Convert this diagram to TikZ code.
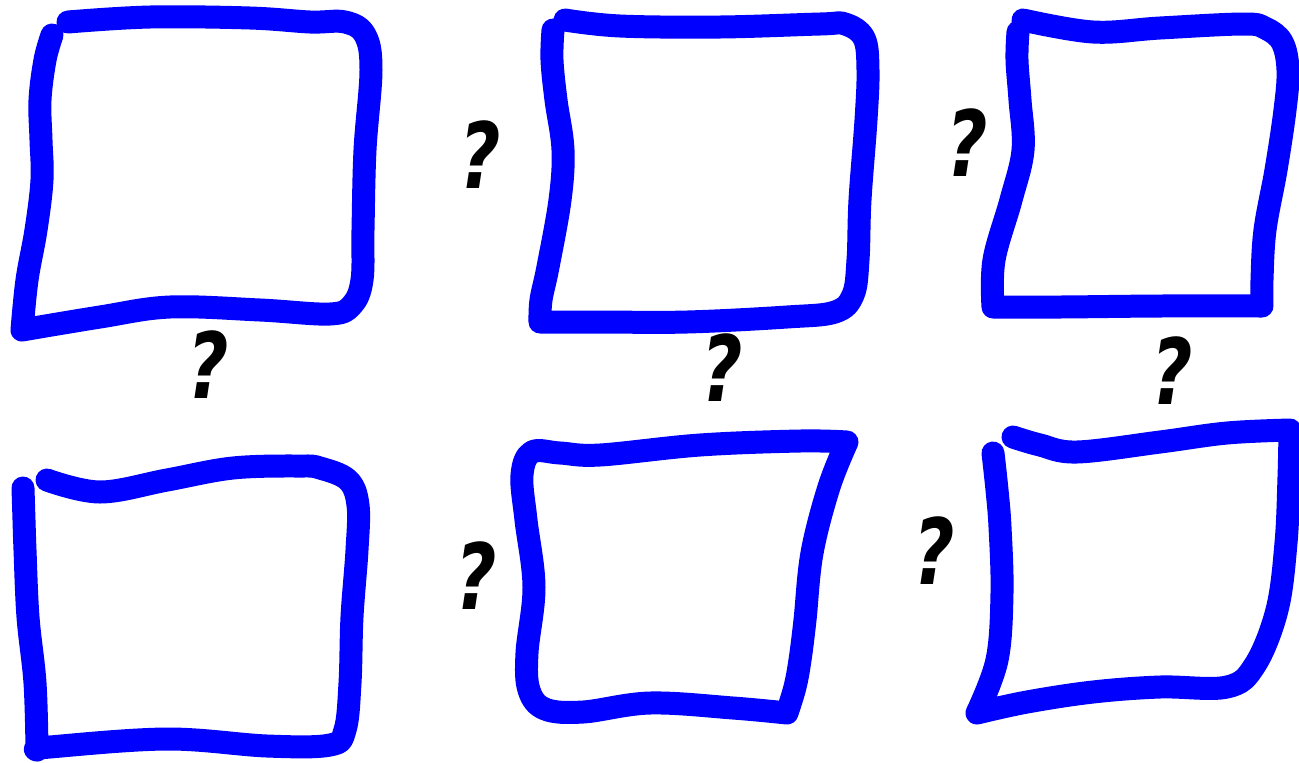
\documentclass[tikz,border=0pt]{standalone}
\usepackage{fontspec}
\newfontfamily\qfont{DejaVu Sans}
\definecolor{penblue}{RGB}{0,0,255}
\begin{document}
\begin{tikzpicture}[x=0.02cm,y=-0.02cm,
  pen/.style={draw=penblue,line width=0.46cm,line cap=round,line join=round},
  qmark/.style={inner sep=0pt,font=\qfont\bfseries\itshape\fontsize{52}{52}\selectfont,xscale=0.78}]
\useasboundingbox (0,0) rectangle (1299,762);
% square 1
\draw[pen] plot[smooth,tension=0.6] coordinates {(52,35) (45,60) (40,100) (41,140) (42,180) (36,230) (27,280) (22,330)}
  -- plot[smooth,tension=0.6] coordinates {(22,330) (100,317) (170,307) (260,310) (330,314) (352,305) (362,280) (363,230) (365,150) (371,70) (365,35) (345,22) (310,22) (250,18) (150,17) (68,22)};
% square 2
\draw[pen] plot[smooth,tension=0.6] coordinates {(553,30) (552,60) (556,100) (563,150) (560,200) (548,267) (541,300) (540,322)}
  -- plot[smooth,tension=0.6] coordinates {(540,322) (600,322) (687,322) (787,317) (835,312) (853,295) (858,260) (860,200) (866,120) (868,70) (864,38) (845,24) (820,24) (720,27) (620,26) (565,20)};
% square 3
\draw[pen] plot[smooth,tension=0.6] coordinates {(1018,32) (1017,60) (1020,100) (1023,150) (1011,200) (994,260) (993,307)}
  -- plot[smooth,tension=0.6] coordinates {(993,307) (1060,307) (1160,306) (1262,306)}
  -- plot[smooth,tension=0.6] coordinates {(1262,306) (1262,280) (1265,230) (1276,170) (1285,110) (1288,70) (1282,42) (1265,28) (1243,24) (1160,28) (1093,32) (1023,20)};
% square 4
\draw[pen] plot[smooth,tension=0.6] coordinates {(23,488) (24,520) (25,550) (28,617) (35,683) (37,750)}
  -- plot[smooth,tension=0.6] coordinates {(37,750) (50,747) (167,739) (267,746) (330,745) (345,730) (350,683) (352,617) (357,550) (358,505) (348,480) (320,468) (300,466) (233,468) (167,480) (100,492) (47,480)};
% square 5
\draw[pen] plot[smooth,tension=0.6] coordinates {(847,442) (829,487) (812,553) (805,620) (800,660) (795,687) (787,713)}
  -- plot[smooth,tension=0.6] coordinates {(787,713) (733,708) (650,703) (583,712) (545,709) (529,690) (527,653) (534,587) (526,520) (522,475) (532,452) (560,453) (600,455) (700,445) (800,441) (847,442)};
% square 6
\draw[pen] plot[smooth,tension=0.6] coordinates {(993,453) (997,490) (1000,527) (1002,593) (997,660) (977,713)}
  -- plot[smooth,tension=0.6] coordinates {(977,713) (1027,702) (1093,692) (1160,687) (1227,687) (1255,665) (1277,610) (1286,543) (1289,477) (1290,430)}
  -- plot[smooth,tension=0.6] coordinates {(1290,430) (1227,433) (1160,442) (1077,452) (1040,445) (1013,437)};
% question marks
\node[qmark] (q1) at (480,155) {?};
\node[qmark] (q2) at (208,365) {?};
\node[qmark] (q3) at (722,368) {?};
\node[qmark] (q4) at (967,143) {?};
\node[qmark] (q5) at (1172,371) {?};
\node[qmark] (q6) at (476,576) {?};
\node[qmark] (q7) at (934,551) {?};
\end{tikzpicture}
\end{document}
